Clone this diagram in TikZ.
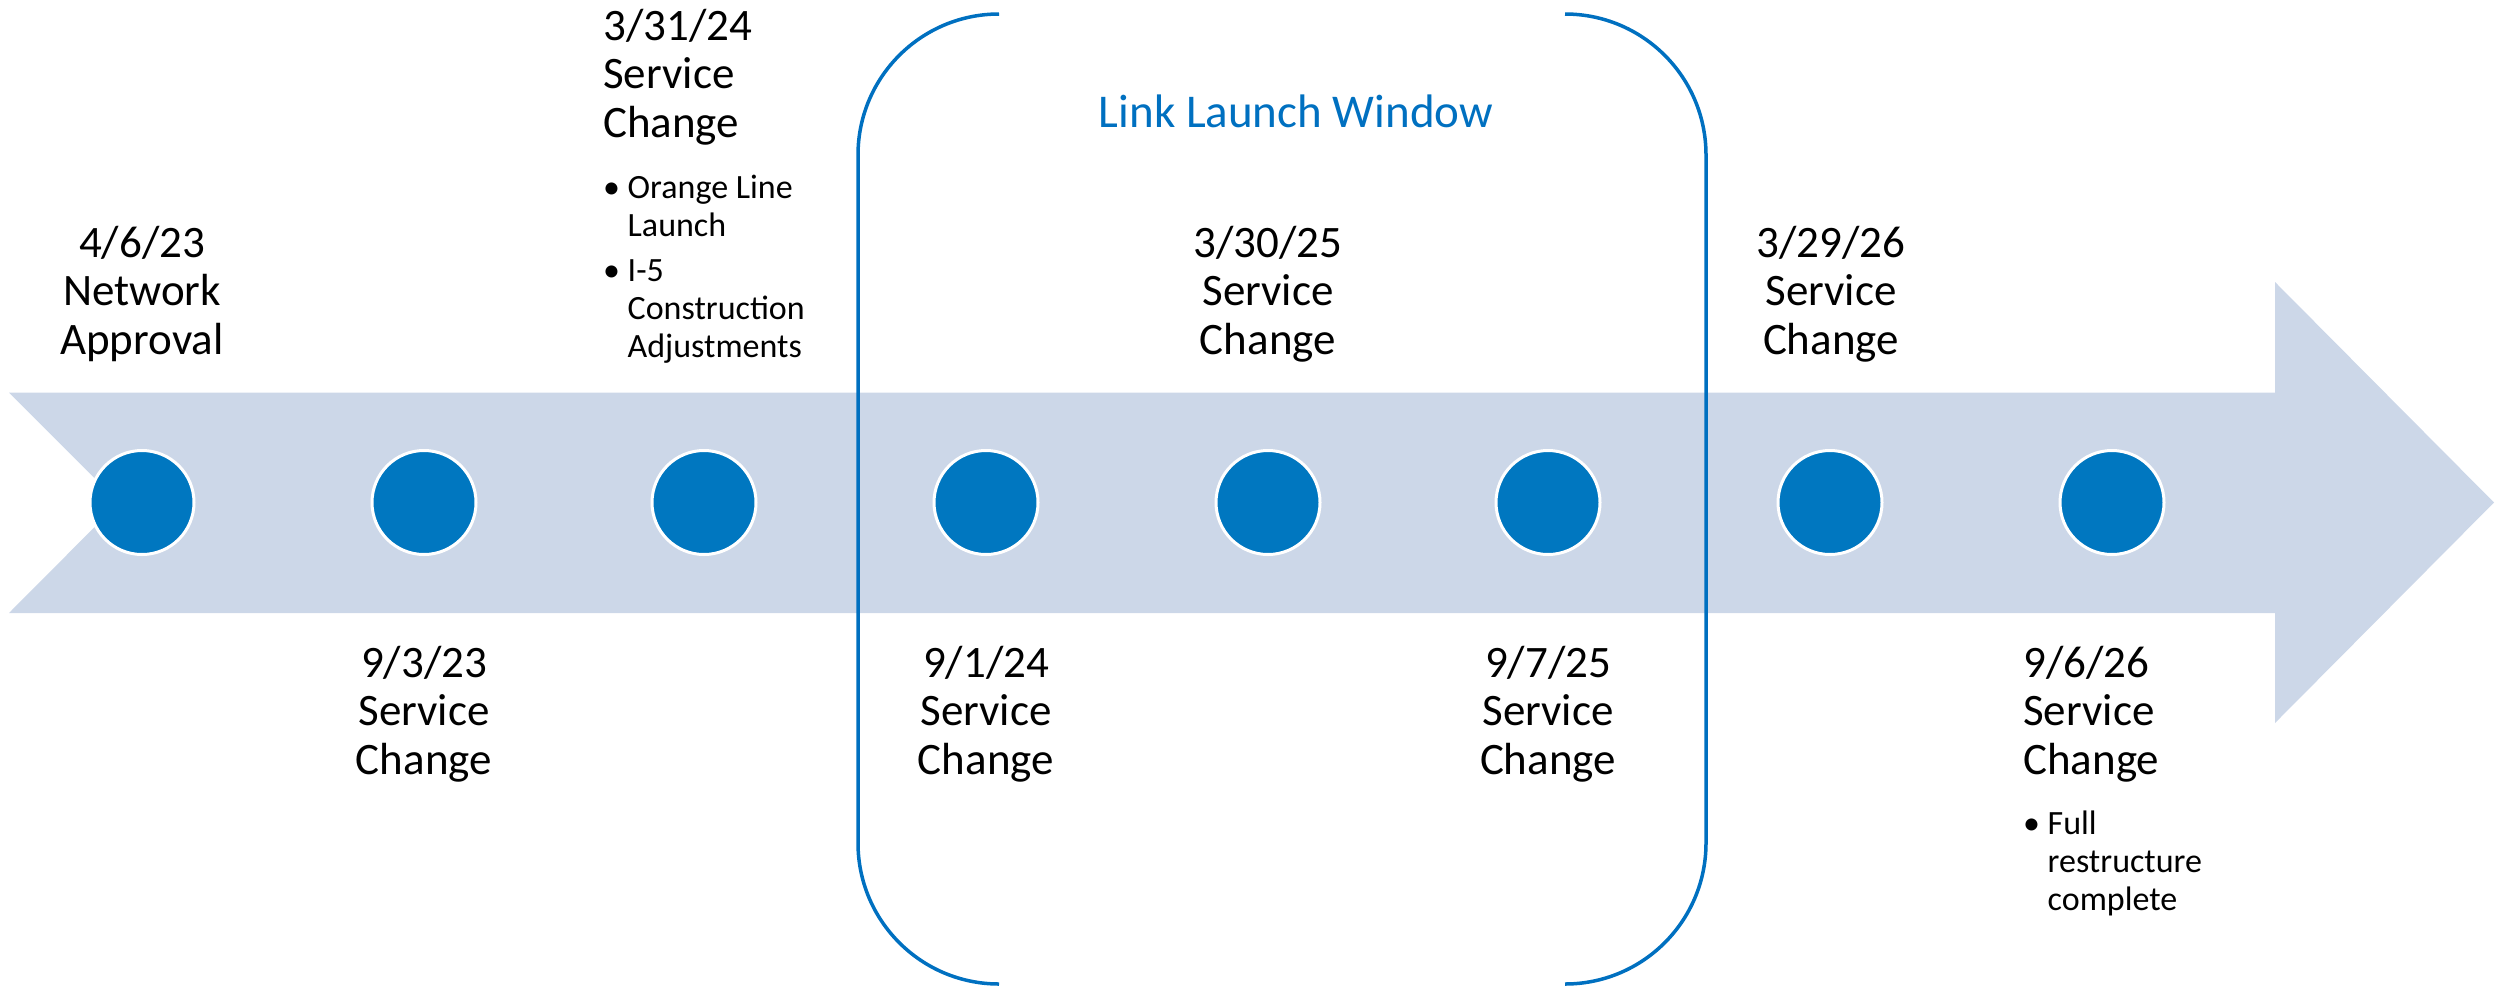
\documentclass[tikz,border=0pt]{standalone}
\usepackage{fontspec}
\setmainfont{Carlito}
\definecolor{arrowfill}{HTML}{CCD7E8}
\definecolor{dotblue}{HTML}{0077C0}
\definecolor{linkblue}{HTML}{0070C0}
\begin{document}
\begin{tikzpicture}[x=1pt,y=-1pt,
  tldot/.style={circle, fill=dotblue, draw=white, line width=3pt, minimum size=104pt, inner sep=0pt},
  lbl/.style={font=\fontsize{45}{48.5}\selectfont, align=center, anchor=base, inner sep=0pt},
  lbll/.style={font=\fontsize{45}{48.5}\selectfont, align=left, anchor=base west, inner sep=0pt},
  blt/.style={font=\fontsize{34}{38}\selectfont, align=left, anchor=base west, inner sep=0pt},
  bracket/.style={draw=linkblue, line width=3.5pt, rounded corners=141pt},
  wintitle/.style={font=\fontsize{47}{50}\selectfont, text=linkblue, anchor=base, inner sep=0pt}]
\useasboundingbox (0,0) rectangle (2498,989);
% timeline arrow
\fill[arrowfill] (9,392.5) -- (2275,392.5) -- (2275,282) -- (2494,502.5) -- (2275,723)
  -- (2275,613) -- (9,613) -- (119,502.5) -- cycle;
% launch window brackets
\draw[bracket] (999,14) -- (858,14) -- (858,984) -- (999,984);
\draw[bracket] (1565,14) -- (1706,14) -- (1706,984) -- (1565,984);
% milestones
\foreach \i/\x in {1/142,2/424,3/704,4/986,5/1268,6/1548,7/1830,8/2112}
  \node[tldot] (c\i) at (\x,502.5) {};
% labels (anchor base = baseline of last line)
\node[wintitle] (win) at (1296,127) {Link Launch Window};
\node[lbl] (l1) at (142,354) {4/6/23\\Network\\Approval};
\node[lbl] (l2) at (424,774) {9/3/23\\Service\\Change};
\node[lbll] (l3) at (603,137) {3/31/24\\Service\\Change};
\node[blt] (b3) at (603,357) {\makebox[24.5pt][l]{\textbullet}Orange Line\\\hspace*{24.5pt}Launch\\[7pt]\makebox[24.5pt][l]{\textbullet}I-5\\\hspace*{24.5pt}Construction\\\hspace*{24.5pt}Adjustments};
\node[lbl] (l4) at (986,774) {9/1/24\\Service\\Change};
\node[lbl] (l5) at (1268,354) {3/30/25\\Service\\Change};
\node[lbl] (l6) at (1548,774) {9/7/25\\Service\\Change};
\node[lbl] (l7) at (1831,354) {3/29/26\\Service\\Change};
\node[lbll] (l8) at (2023,774) {9/6/26\\Service\\Change};
\node[blt] (b8) at (2023,910) {\makebox[24.5pt][l]{\textbullet}Full\\\hspace*{24.5pt}restructure\\\hspace*{24.5pt}complete};
\end{tikzpicture}
\end{document}
